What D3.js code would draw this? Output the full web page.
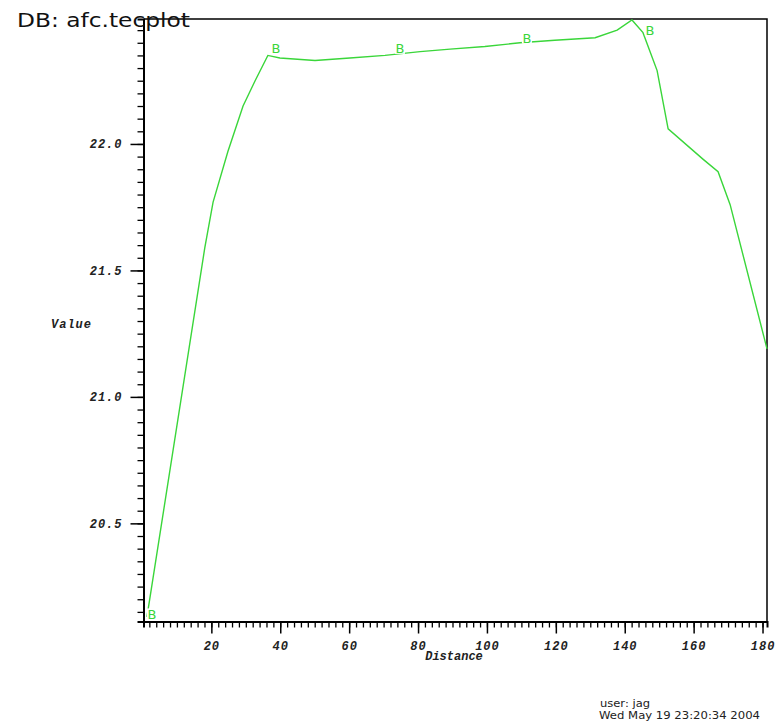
<!DOCTYPE html>
<html><head><meta charset="utf-8">
<script src="https://cdn.jsdelivr.net/npm/d3@7"></script>
<style>body{margin:0;background:#fff}svg{display:block}</style>
</head><body>
<svg id="c" width="780" height="728"></svg>
<script>
// ---- data ----
const distance = [1.3, 18.1, 20.5, 24.8, 29.2, 32.7, 36.4, 39.9, 50.1, 60.2, 70.4, 80.6, 89.3, 99.4, 109.6, 119.7, 131.4, 137.8, 142.1, 145.3, 149.4, 152.6, 162.7, 167.1, 170.6, 181.3];
const value    = [20.13, 21.59, 21.77, 21.97, 22.15, 22.25, 22.35, 22.34, 22.33, 22.34, 22.35, 22.365, 22.375, 22.385, 22.40, 22.41, 22.42, 22.45, 22.49, 22.44, 22.29, 22.06, 21.94, 21.89, 21.76, 21.19];
const markerDistance = [2.77, 38.76, 74.76, 111.6, 147.3];
const markerValue    = [20.14, 22.38, 22.38, 22.42, 22.45];
const markerLabel = "B";
const xTicks = [20, 40, 60, 80, 100, 120, 140, 160, 180];
const yTicks = [20.5, 21.0, 21.5, 22.0];
const xMinorTicks = d3.range(2, 181, 2);
const yMinorTicks = d3.range(20.15, 22.49, 0.05);
const titleText = "DB: afc.tecplot";
const xTitle = "Distance";
const yTitle = "Value";
const footer = ["user: jag", "Wed May 19 23:20:34 2004"];

// ---- layout ----
const L = 143.5, R = 767, T = 19, B = 621.5;
const svg = d3.select("#c");
const x = d3.scaleLinear().domain([0.3, 181.3]).range([L, R]);
const y = d3.scaleLinear().domain([20.112, 22.494]).range([B, T]);
const green = "#3ad63a";
const tickFont = "'Liberation Mono', 'DejaVu Sans Mono', monospace";

// frame
svg.append("path").attr("d", `M${L},${T}H${R}V${B}`).attr("fill", "none").attr("stroke", "#000").attr("stroke-width", 1.5);

// x axis
const xAx = svg.append("g").attr("transform", `translate(0,${B})`)
  .call(d3.axisBottom(x).tickValues(xMinorTicks).tickSize(6).tickFormat(""));
xAx.select(".domain").attr("stroke-width", 2);
xAx.selectAll(".tick line").attr("stroke-width", 1.3);
const xAxM = svg.append("g").attr("transform", `translate(0,${B})`)
  .call(d3.axisBottom(x).tickValues(xTicks).tickSize(12).tickPadding(8).tickFormat(d3.format("d")));
xAxM.select(".domain").remove();
xAxM.selectAll(".tick line").attr("stroke-width", 1.5);
xAxM.selectAll(".tick text").attr("font-family", tickFont).attr("font-size", 12).attr("font-style", "italic")
  .attr("font-weight", "bold").attr("letter-spacing", 1).attr("fill", "#222");

// y axis
const yAx = svg.append("g").attr("transform", `translate(${L},0)`)
  .call(d3.axisLeft(y).tickValues(yMinorTicks).tickSize(6).tickFormat(""));
yAx.select(".domain").attr("stroke-width", 2);
yAx.selectAll(".tick line").attr("stroke-width", 1.3);
const yAxM = svg.append("g").attr("transform", `translate(${L},0)`)
  .call(d3.axisLeft(y).tickValues(yTicks).tickSize(13).tickPadding(8).tickFormat(d3.format(".1f")));
yAxM.select(".domain").remove();
yAxM.selectAll(".tick line").attr("stroke-width", 1.5);
yAxM.selectAll(".tick text").attr("font-family", tickFont).attr("font-size", 12).attr("font-style", "italic")
  .attr("font-weight", "bold").attr("letter-spacing", 1).attr("fill", "#222");

// line
const pts = distance.map((d, i) => [d, value[i]]);
svg.append("path").datum(pts)
  .attr("d", d3.line().x(d => x(d[0])).y(d => y(d[1])))
  .attr("fill", "none").attr("stroke", green).attr("stroke-width", 1.4);

// markers
const mk = svg.append("g").selectAll("g").data(markerDistance.map((d, i) => [d, markerValue[i]])).join("g")
  .attr("transform", d => `translate(${x(d[0])},${y(d[1])})`);
mk.append("rect").attr("x", -5).attr("y", -6).attr("width", 10).attr("height", 12).attr("fill", "#fff");
mk.append("text").text(markerLabel).attr("text-anchor", "middle").attr("dy", 5)
  .attr("font-family", "'DejaVu Sans', sans-serif").attr("font-size", 13).attr("fill", green);

// axis titles
svg.append("text").text(xTitle).attr("x", 454).attr("y", 660).attr("text-anchor", "middle")
  .attr("font-family", tickFont).attr("font-size", 12).attr("font-style", "italic").attr("font-weight", "bold").attr("fill", "#222");
svg.append("text").text(yTitle).attr("x", 51).attr("y", 328)
  .attr("font-family", tickFont).attr("font-size", 12).attr("font-style", "italic").attr("font-weight", "bold")
  .attr("letter-spacing", 1).attr("fill", "#222");

// title
svg.append("text").text(titleText).attr("x", 17).attr("y", 27)
  .attr("font-family", "'DejaVu Sans', sans-serif").attr("font-size", 19)
  .attr("textLength", 173).attr("lengthAdjust", "spacingAndGlyphs").attr("fill", "#111");

// footer
svg.append("text").text(footer[0]).attr("x", 600).attr("y", 707)
  .attr("font-family", "'DejaVu Sans', sans-serif").attr("font-size", 10).attr("textLength", 50)
  .attr("lengthAdjust", "spacingAndGlyphs").attr("fill", "#222");
svg.append("text").text(footer[1]).attr("x", 599).attr("y", 719)
  .attr("font-family", "'DejaVu Sans', sans-serif").attr("font-size", 10).attr("textLength", 161)
  .attr("lengthAdjust", "spacingAndGlyphs").attr("fill", "#222");
</script>
</body></html>
